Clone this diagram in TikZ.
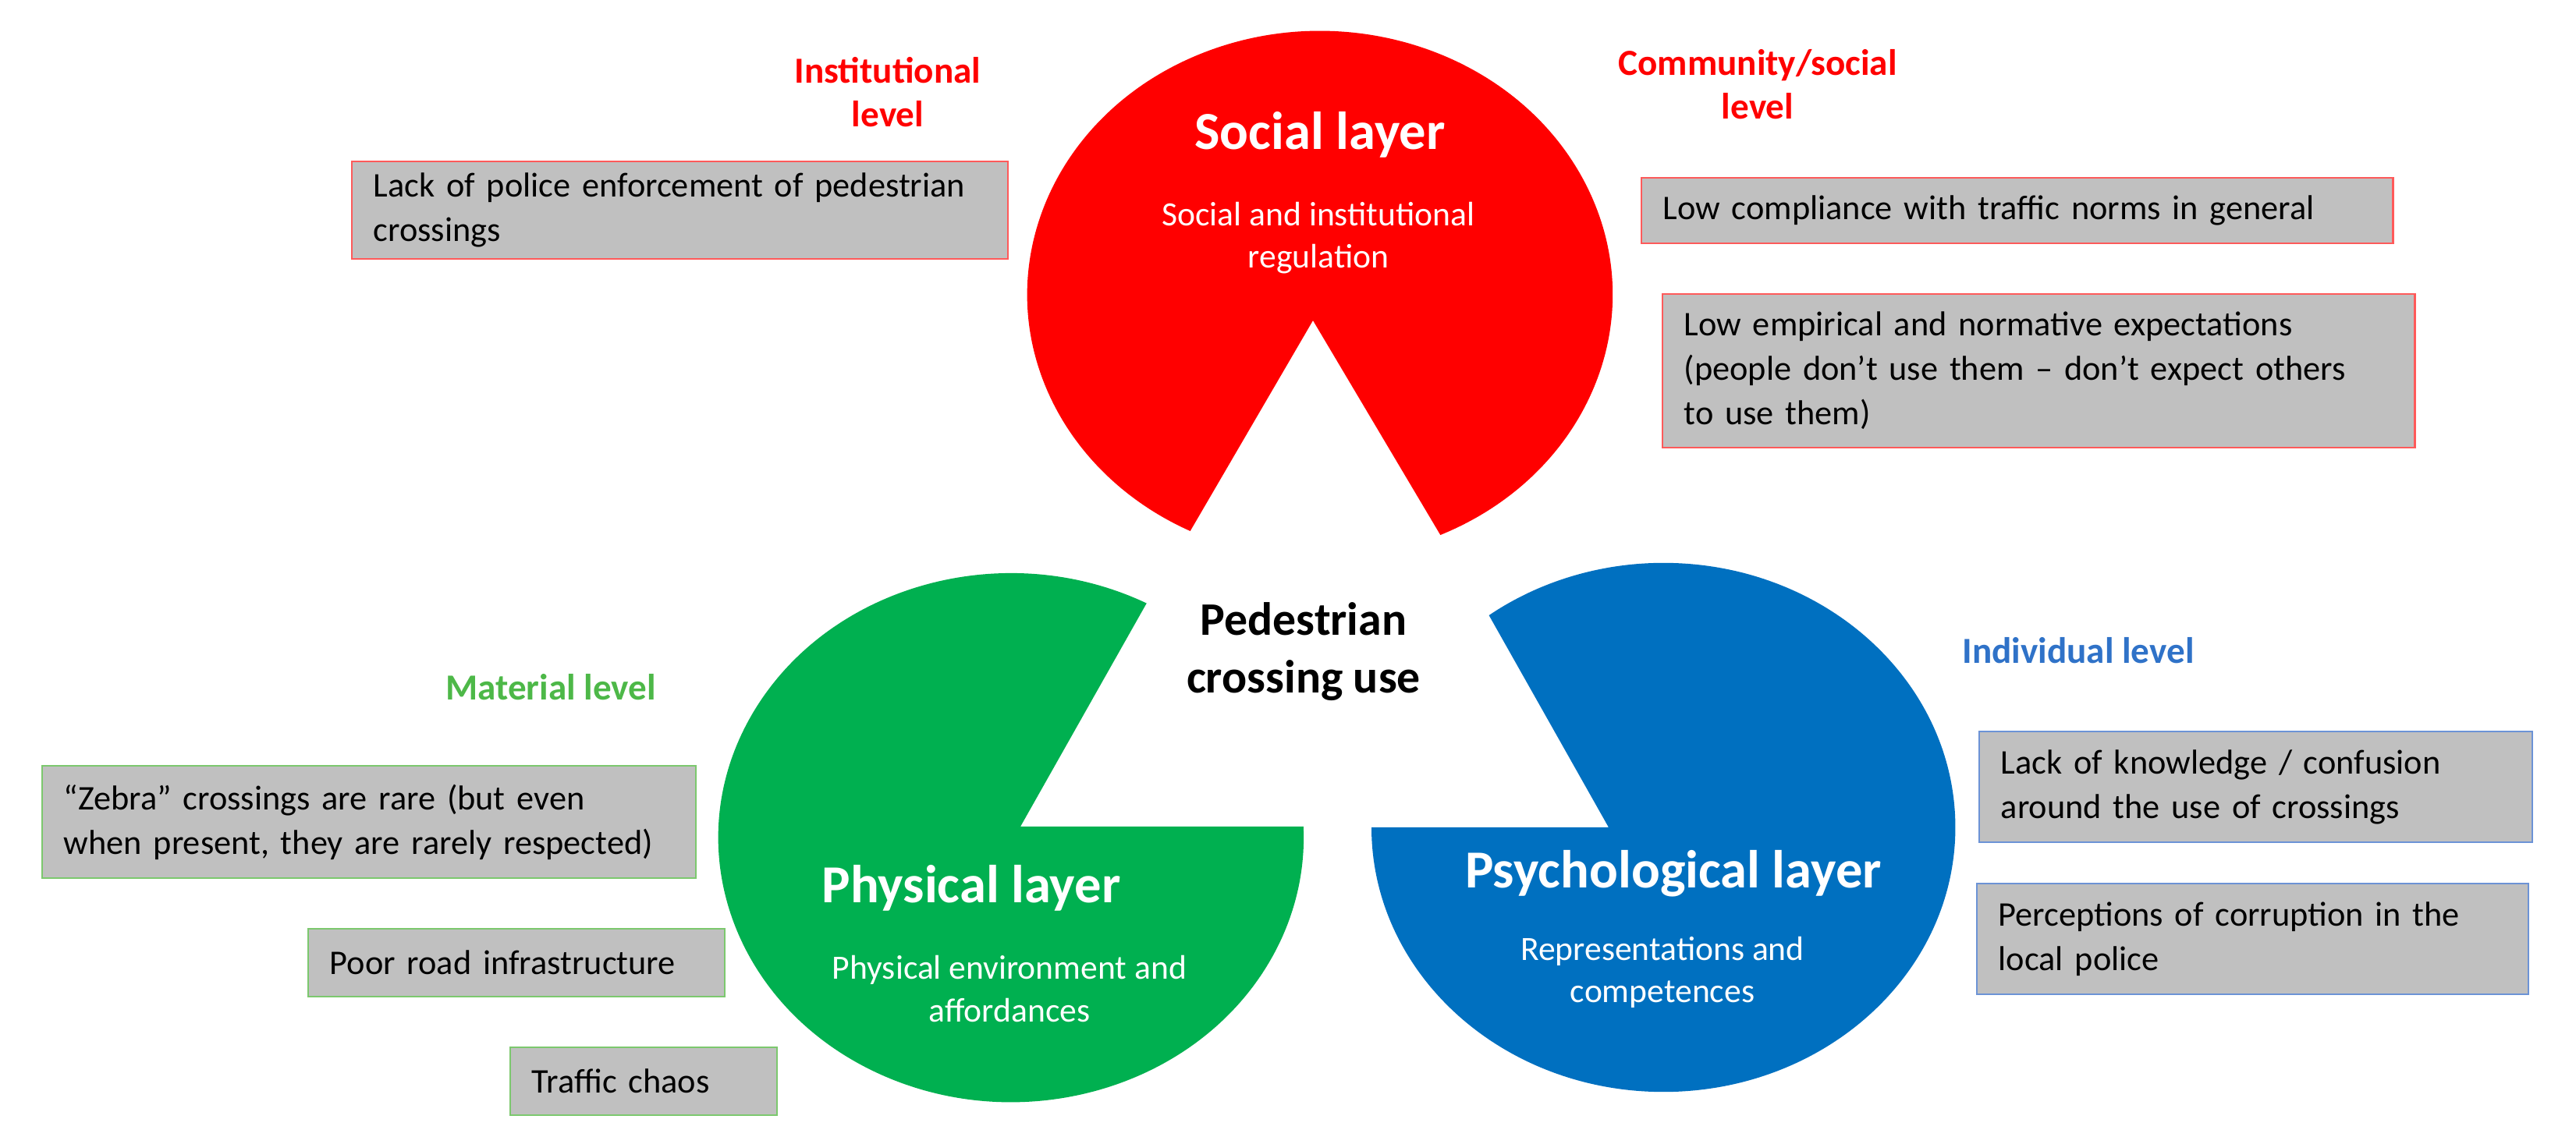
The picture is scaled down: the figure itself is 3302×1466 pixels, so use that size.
\documentclass[tikz,border=0pt]{standalone}
\usepackage{fontspec}
\setmainfont{Carlito}
\definecolor{cred}{HTML}{FF0000}
\definecolor{cgreen}{HTML}{00B050}
\definecolor{cblue}{HTML}{0070C0}
\definecolor{lgreen}{HTML}{4DB848}
\definecolor{lblue}{HTML}{2F72C8}
\definecolor{boxgray}{HTML}{C0C0C0}
\definecolor{bred}{HTML}{FF5A5A}
\definecolor{bgreen}{HTML}{7CC86E}
\definecolor{bblue}{HTML}{6C93D6}
\tikzset{
  infobox/.style={draw, fill=boxgray, line width=0.7pt, rectangle, inner xsep=0.28cm, inner ysep=0pt, align=left, font=\fontsize{12.6}{16.2}\selectfont, text=black},
  lvl/.style={font=\bfseries\fontsize{13.4}{16}\selectfont, align=center},
  layertitle/.style={font=\bfseries\fontsize{19.5}{22}\selectfont, text=white},
  layersub/.style={font=\fontsize{12.4}{15.5}\selectfont, text=white, align=center}
}
\begin{document}
\begin{tikzpicture}[x=0.01cm,y=0.01cm]
\useasboundingbox (0,0) rectangle (3302,1466);
% shapes
\fill[cred] (1692,1088) ++(-65.7:375 and 338) arc[start angle=-65.7, end angle=243.7, x radius=3.75cm, y radius=3.38cm] -- (1683,1055) -- cycle;
\fill[cgreen] (1296,392) ++(62.4:375 and 339) arc[start angle=62.4, end angle=362.4, x radius=3.75cm, y radius=3.39cm] -- (1308,406) -- cycle;
\fill[cblue] (2062,405) -- (1758,405) arc[start angle=180, end angle=486.7, x radius=3.74cm, y radius=3.39cm] -- cycle;
% layer texts
\node[layertitle] (st) at (1692,1293) {Social layer};
\node[layersub] (ss) at (1690,1161) {Social and institutional\\regulation};
\node[layertitle] (pt) at (1245,327) {Physical layer};
\node[layersub] (ps) at (1294,198) {Physical environment and\\affordances};
\node[layertitle] (yt) at (2145,346) {Psychological layer};
\node[layersub] (ys) at (2131,219) {Representations and\\competences};
\node[font=\bfseries\fontsize{17}{21}\selectfont, align=center] (center) at (1671,630) {Pedestrian\\crossing use};
% level labels
\node[lvl, text=cred] (inst) at (1138,1348) {Institutional\\level};
\node[lvl, text=cred] (comm) at (2253,1358) {Community/social\\level};
\node[lvl, text=lgreen] (mat) at (706,585) {Material level};
\node[lvl, text=lblue] (ind) at (2664,632) {Individual level};
% boxes
\node[infobox, draw=bred, minimum width=8.41cm, minimum height=1.25cm, text width=7.85cm] (b1) at (871.5,1196.5) {Lack of police enforcement of pedestrian\\crossings};
\node[infobox, draw=bred, minimum width=9.63cm, minimum height=0.84cm, text width=9.07cm] (b2) at (2585.5,1196) {Low compliance with traffic norms in general};
\node[infobox, draw=bred, minimum width=9.64cm, minimum height=1.97cm, text width=9.08cm] (b3) at (2613,990.5) {Low empirical and normative expectations\\(people don’t use them – don’t expect others\\to use them)};
\node[infobox, draw=bgreen, minimum width=8.38cm, minimum height=1.44cm, text width=7.82cm] (g1) at (473,412) {“Zebra” crossings are rare (but even\\when present, they are rarely respected)};
\node[infobox, draw=bgreen, minimum width=5.34cm, minimum height=0.87cm, text width=4.78cm] (g2) at (662,231.5) {Poor road infrastructure};
\node[infobox, draw=bgreen, minimum width=3.42cm, minimum height=0.87cm, text width=2.86cm] (g3) at (825,79.5) {Traffic chaos};
\node[infobox, draw=bblue, minimum width=7.09cm, minimum height=1.42cm, text width=6.53cm] (u1) at (2891.5,457) {Lack of knowledge / confusion\\around the use of crossings};
\node[infobox, draw=bblue, minimum width=7.07cm, minimum height=1.42cm, text width=6.51cm] (u2) at (2887.5,262) {Perceptions of corruption in the\\local police};
\end{tikzpicture}
\end{document}
